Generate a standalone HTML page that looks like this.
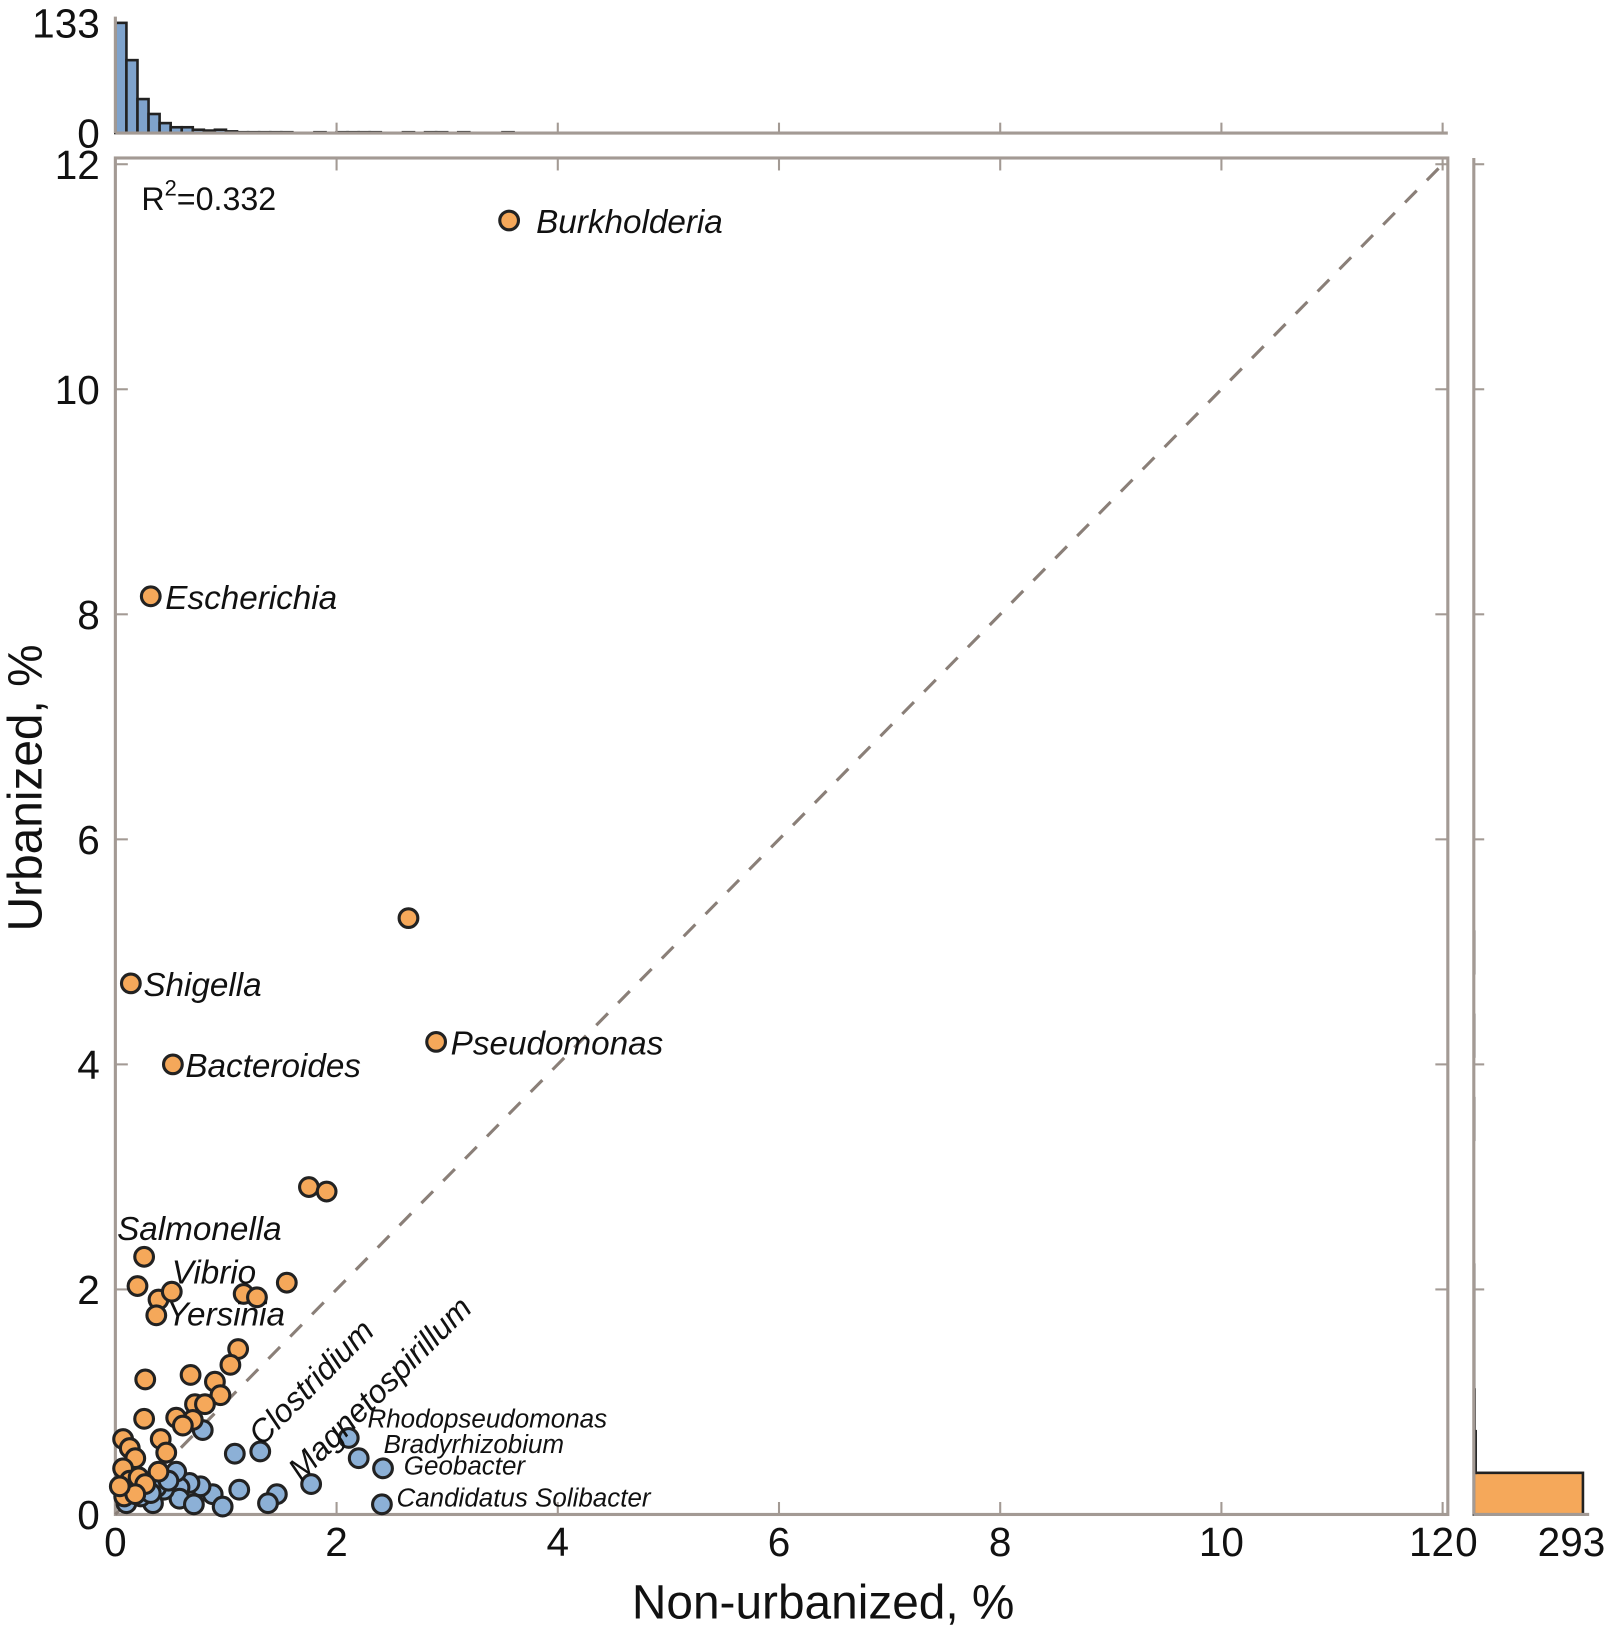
<!DOCTYPE html>
<html><head><meta charset="utf-8"><style>
html,body{margin:0;padding:0;background:#fff;}
svg{display:block;}
text{font-family:"Liberation Sans",sans-serif;fill:#111;}
.it{font-style:italic;}
</style></head><body>
<svg id="chart" width="1611" height="1634" viewBox="0 0 1550 1572" preserveAspectRatio="none" xmlns="http://www.w3.org/2000/svg">
<rect width="1550" height="1572" fill="#fff"/>
<g id="g"></g>
</svg>
<script>
const orangeX=[3.56,0.32,2.65,0.14,0.52,2.9,1.75,1.91,0.26,0.2,0.39,0.51,0.37,1.16,1.28,1.55,1.11,1.04,0.27,0.68,0.9,0.95,0.72,0.81,0.7,0.55,0.61,0.26,0.07,0.13,0.18,0.41,0.46,0.39,0.07,0.13,0.21,0.27,0.08,0.18,0.04];
const orangeY=[11.5,8.16,5.3,4.72,4.0,4.2,2.91,2.87,2.29,2.03,1.91,1.98,1.77,1.96,1.93,2.06,1.47,1.33,1.2,1.24,1.18,1.06,0.98,0.98,0.84,0.86,0.79,0.85,0.67,0.59,0.5,0.67,0.55,0.38,0.41,0.3,0.33,0.27,0.16,0.18,0.25];
const blueX=[0.79,1.08,1.31,2.11,2.2,2.42,2.41,1.77,1.46,1.38,1.12,0.88,0.77,0.67,0.58,0.55,0.58,0.44,0.34,0.71,0.97,0.1,0.23,0.37,0.48,0.18,0.32];
const blueY=[0.75,0.54,0.56,0.68,0.5,0.41,0.09,0.27,0.18,0.1,0.22,0.18,0.25,0.28,0.24,0.38,0.14,0.22,0.1,0.09,0.07,0.1,0.16,0.24,0.3,0.27,0.19];
const topHistCounts=[133,88,41,23,12,7,7,4,3,4,2,1,1,1,1,1,0,0,1,0,1,1,1,1,0,0,1,0,1,1,0,1,0,0,0,1];
const rightHistCounts=[293,5,2,1,1,1,0,0,0,1,0,1,0,1];
const xTicks=[0,2,4,6,8,10,12];
const yTicks=[0,2,4,6,8,10,12];
const labels=[
 {t:"Burkholderia",x:3.56,y:11.5,dx:26,dy:12,s:32},
 {t:"Escherichia",x:0.32,y:8.16,dx:14,dy:12,s:32},
 {t:"Shigella",x:0.14,y:4.72,dx:12,dy:12,s:32},
 {t:"Bacteroides",x:0.52,y:4.0,dx:12,dy:12,s:32},
 {t:"Pseudomonas",x:2.9,y:4.2,dx:14,dy:12,s:32},
 {t:"Salmonella",x:0.26,y:2.29,dx:-26,dy:-16,s:32},
 {t:"Vibrio",x:0.51,y:1.98,dx:0,dy:-8,s:32},
 {t:"Yersinia",x:0.37,y:1.77,dx:10,dy:10,s:32},
 {t:"Rhodopseudomonas",x:2.11,y:0.68,dx:18,dy:-10,s:25},
 {t:"Bradyrhizobium",x:2.2,y:0.5,dx:24,dy:-5,s:25},
 {t:"Geobacter",x:2.42,y:0.41,dx:20,dy:6,s:25},
 {t:"Candidatus Solibacter",x:2.41,y:0.09,dx:14,dy:2,s:25}
];
const L=111,R=1393,T=152,B=1457;
const X=v=>L+v*(1388-L)/12;
const Y=v=>B-v*(B-158)/12;
const hB=128,hT=22; const HY=c=>hB-c*(hB-hT)/133;
const rL=1418,rR=1523; const RX=c=>rL+c*(rR-rL)/293;
const g=document.getElementById('g');
const NS="http://www.w3.org/2000/svg";
function mk(tag,attrs,parent){const e=document.createElementNS(NS,tag);for(const k in attrs)e.setAttribute(k,attrs[k]);(parent||g).appendChild(e);return e;}
const frame="#a39a94";
topHistCounts.forEach((c,i)=>{if(!c)return;
 const r=mk('rect',{x:X(i*0.1),y:HY(c),width:X(0.1)-X(0),height:hB-HY(c),fill:'#7fa3cc',stroke:'#222','stroke-width':2.5});
 
 });
mk('line',{x1:L,y1:hB,x2:R,y2:hB,stroke:frame,'stroke-width':3});
mk('line',{x1:L,y1:hT-6,x2:L,y2:hB,stroke:frame,'stroke-width':3});
xTicks.forEach(t=>{mk('line',{x1:X(t),y1:hB,x2:X(t),y2:hB-10,stroke:frame,'stroke-width':2});});
let tt=mk('text',{x:96,y:36,'font-size':39,'text-anchor':'end'});tt.textContent="133";

tt=mk('text',{x:96,y:142,'font-size':39,'text-anchor':'end'});tt.textContent="0";
rightHistCounts.forEach((c,i)=>{if(!c)return;
 const r=mk('rect',{x:rL,y:Y((i+1)*0.37),width:RX(c)-rL,height:Y(0)-Y(0.37),fill:'#f5a85a',stroke:'#222','stroke-width':2.5});
 
 });
mk('line',{x1:rL,y1:T,x2:rL,y2:B,stroke:frame,'stroke-width':3});
mk('line',{x1:rL,y1:B,x2:rR+6,y2:B,stroke:frame,'stroke-width':3});
yTicks.forEach(t=>{mk('line',{x1:rL,y1:Y(t),x2:rL+10,y2:Y(t),stroke:frame,'stroke-width':2});});
tt=mk('text',{x:1400,y:1497,'font-size':39,'text-anchor':'start'});tt.textContent="0";
tt=mk('text',{x:1512,y:1497,'font-size':39,'text-anchor':'middle'});tt.textContent="293";

const fr=mk('rect',{x:L,y:T,width:R-L,height:B-T,fill:'none',stroke:frame,'stroke-width':3});

xTicks.forEach(t=>{mk('line',{x1:X(t),y1:B,x2:X(t),y2:B-12,stroke:frame,'stroke-width':2});mk('line',{x1:X(t),y1:T,x2:X(t),y2:T+12,stroke:frame,'stroke-width':2});
 const e=mk('text',{x:t===12?1399:X(t),y:1497,'font-size':39,'text-anchor':t===12?'end':'middle'});e.textContent=String(t);
 });
yTicks.forEach(t=>{mk('line',{x1:L,y1:Y(t),x2:L+12,y2:Y(t),stroke:frame,'stroke-width':2});mk('line',{x1:R,y1:Y(t),x2:R-12,y2:Y(t),stroke:frame,'stroke-width':2});
 const e=mk('text',{x:96,y:Y(t)+14,'font-size':39,'text-anchor':'end'});e.textContent=String(t);
 });
const dl=mk('line',{x1:X(0),y1:Y(0),x2:X(12),y2:Y(12),stroke:'#8a7f78','stroke-width':3,'stroke-dasharray':'16 14'});

blueX.forEach((v,i)=>{const c=mk('circle',{cx:X(v),cy:Y(blueY[i]),r:9,fill:'#8cb0d6',stroke:'#222','stroke-width':3});
 });
orangeX.forEach((v,i)=>{const c=mk('circle',{cx:X(v),cy:Y(orangeY[i]),r:9,fill:'#f5a85a',stroke:'#222','stroke-width':3});
 });
labels.forEach(l=>{const e=mk('text',{x:X(l.x)+l.dx,y:Y(l.y)+l.dy,'font-size':l.s,class:'it'});e.textContent=l.t;
 });
let rc=mk('text',{x:252,y:1392,'font-size':31,class:'it',transform:'rotate(-45 252 1392)'});rc.textContent="Clostridium";

rc=mk('text',{x:290,y:1426,'font-size':31,class:'it',transform:'rotate(-45 290 1426)'});rc.textContent="Magnetospirillum";

tt=mk('text',{x:136,y:202,'font-size':31});tt.innerHTML='R<tspan dy="-14" font-size="21">2</tspan><tspan dy="14">=0.332</tspan>';

tt=mk('text',{x:792,y:1557,'font-size':46,'text-anchor':'middle'});tt.textContent="Non-urbanized, %";

tt=mk('text',{x:40,y:758,'font-size':46,'text-anchor':'middle',transform:'rotate(-90 40 758)'});tt.textContent="Urbanized, %";

</script>
</body></html>
